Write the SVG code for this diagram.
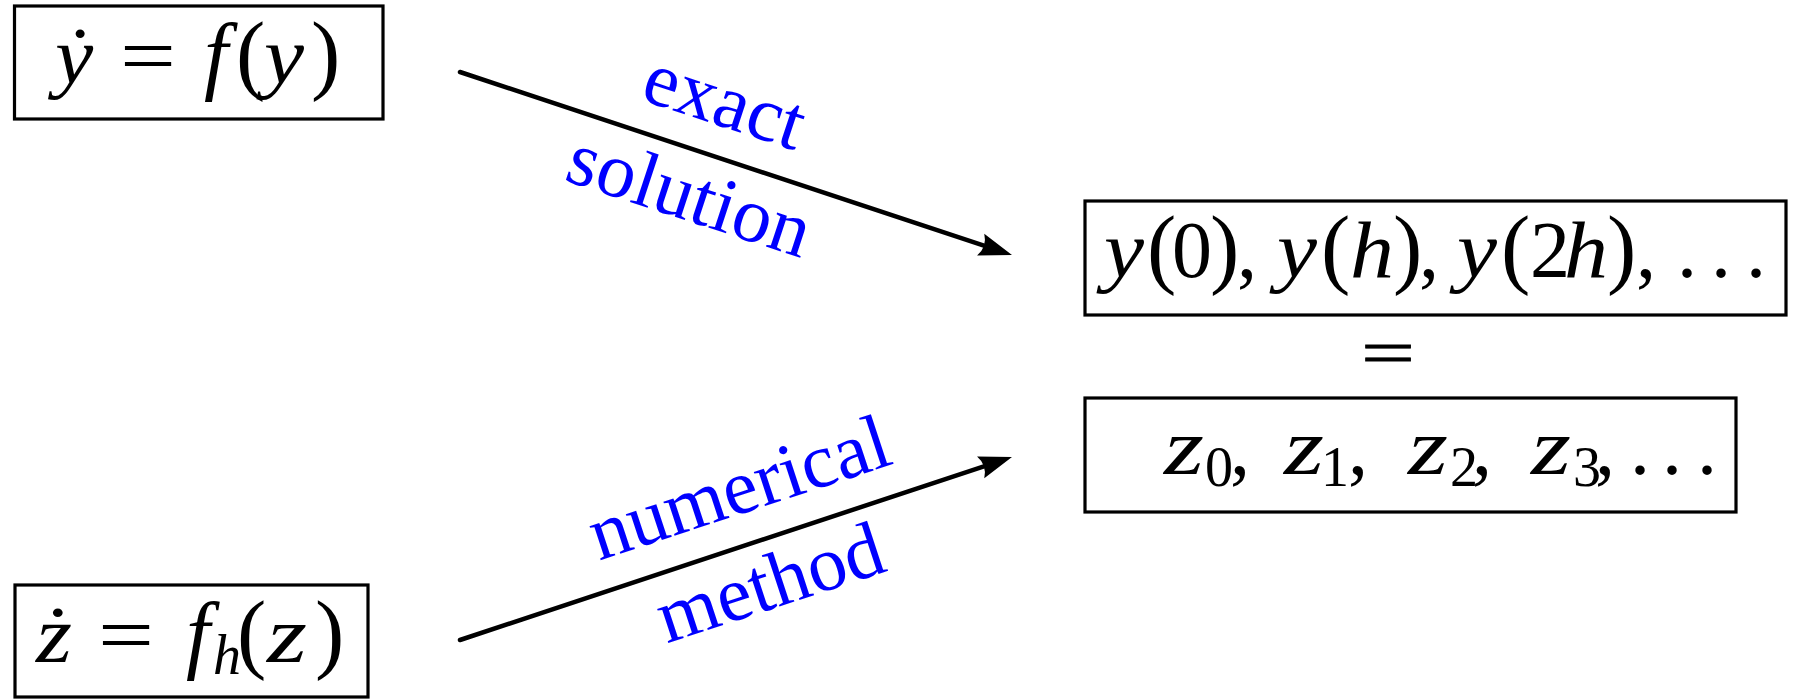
<svg xmlns="http://www.w3.org/2000/svg" width="1794" height="699" viewBox="0 0 1794 699">
<style>
.box{fill:#fff;stroke:#000;stroke-width:3.2}
.m{font-family:"Liberation Serif","Times New Roman",serif;font-size:80px;fill:#000}
.i{font-style:italic}
.p{font-size:88px}
.f{font-size:86px}
.s{font-size:56px}
.eq{font-family:"Liberation Serif","Times New Roman",serif;font-size:64px;fill:#000;stroke:#000;stroke-width:0.8}
.lbl{font-family:"Liberation Serif","Times New Roman",serif;font-size:78px;fill:#0000ff}
.conn{stroke:#000;stroke-width:4.5;fill:none;stroke-linecap:round}
</style>
<defs>
<marker id="ah" markerUnits="userSpaceOnUse" markerWidth="80" markerHeight="80" refX="0" refY="0" orient="auto" overflow="visible">
<path d="M20,0 L-13,-11.5 Q-6,0 -13,11.5 Z" fill="#000"/>
</marker>
</defs>
<rect width="1794" height="699" fill="#fff"/>

<g id="connectors">
<path class="conn" d="M460,72 L993,248.7" marker-end="url(#ah)"/>
<path class="conn" d="M460,640 L993,463.3" marker-end="url(#ah)"/>
<text class="lbl" text-anchor="middle" transform="translate(717,125) rotate(18.2)">exact</text>
<text class="lbl" text-anchor="middle" transform="translate(682,219) rotate(18.2)">solution</text>
<text class="lbl" text-anchor="middle" transform="translate(747,512) rotate(-18.2)">numerical</text>
<text class="lbl" text-anchor="middle" transform="translate(778,607) rotate(-18.2)">method</text>
</g>

<g id="ode-exact">
<rect class="box" x="14.5" y="6" width="368.5" height="113"/>
<text class="m" y="83"><tspan class="i" x="55" textLength="38" lengthAdjust="spacingAndGlyphs">ẏ</tspan><tspan x="120" textLength="56" lengthAdjust="spacingAndGlyphs">=</tspan><tspan class="i f" x="204">f</tspan><tspan class="p" x="236">(</tspan><tspan class="i" x="264" textLength="40" lengthAdjust="spacingAndGlyphs">y</tspan><tspan class="p" x="311">)</tspan></text>
</g>

<g id="ode-modified">
<rect class="box" x="15" y="585" width="353" height="112"/>
<text class="m" y="662"><tspan class="i" x="36" textLength="36" lengthAdjust="spacingAndGlyphs">ż</tspan><tspan x="98" textLength="56" lengthAdjust="spacingAndGlyphs">=</tspan><tspan class="i f" x="186">f</tspan><tspan class="i s" x="213" dy="12">h</tspan><tspan class="p" x="237" dy="-12">(</tspan><tspan class="i" x="267" textLength="40" lengthAdjust="spacingAndGlyphs">z</tspan><tspan class="p" x="315">)</tspan></text>
</g>

<g id="exact-values">
<rect class="box" x="1085" y="201" width="701" height="114"/>
<text class="m" y="277"><tspan class="i" x="1104" textLength="40" lengthAdjust="spacingAndGlyphs">y</tspan><tspan class="p" x="1147">(</tspan><tspan x="1172">0</tspan><tspan class="p" x="1210">)</tspan><tspan x="1237">,</tspan><tspan class="i" x="1277" textLength="40" lengthAdjust="spacingAndGlyphs">y</tspan><tspan class="p" x="1321">(</tspan><tspan class="i" x="1350" textLength="44" lengthAdjust="spacingAndGlyphs">h</tspan><tspan class="p" x="1393">)</tspan><tspan x="1419">,</tspan><tspan class="i" x="1457" textLength="40" lengthAdjust="spacingAndGlyphs">y</tspan><tspan class="p" x="1501">(</tspan><tspan x="1530">2</tspan><tspan class="i" x="1564" textLength="44" lengthAdjust="spacingAndGlyphs">h</tspan><tspan class="p" x="1607">)</tspan><tspan x="1636">,</tspan><tspan x="1677">.</tspan><tspan x="1711">.</tspan><tspan x="1746">.</tspan></text>
</g>

<g id="equals">
<text class="eq" x="1361" y="374" textLength="54" lengthAdjust="spacingAndGlyphs">=</text>
</g>

<g id="numerical-values">
<rect class="box" x="1085" y="398" width="651" height="114"/>
<text class="m" y="474"><tspan class="i" x="1164" textLength="40" lengthAdjust="spacingAndGlyphs">z</tspan><tspan class="s" x="1205" dy="12">0</tspan><tspan x="1230" dy="-12">,</tspan><tspan class="i" x="1284" textLength="40" lengthAdjust="spacingAndGlyphs">z</tspan><tspan class="s" x="1321" dy="12">1</tspan><tspan x="1348" dy="-12">,</tspan><tspan class="i" x="1408" textLength="40" lengthAdjust="spacingAndGlyphs">z</tspan><tspan class="s" x="1450" dy="12">2</tspan><tspan x="1472" dy="-12">,</tspan><tspan class="i" x="1531" textLength="40" lengthAdjust="spacingAndGlyphs">z</tspan><tspan class="s" x="1573" dy="12">3</tspan><tspan x="1595" dy="-12">,</tspan><tspan x="1630">.</tspan><tspan x="1662">.</tspan><tspan x="1697">.</tspan></text>
</g>
</svg>
